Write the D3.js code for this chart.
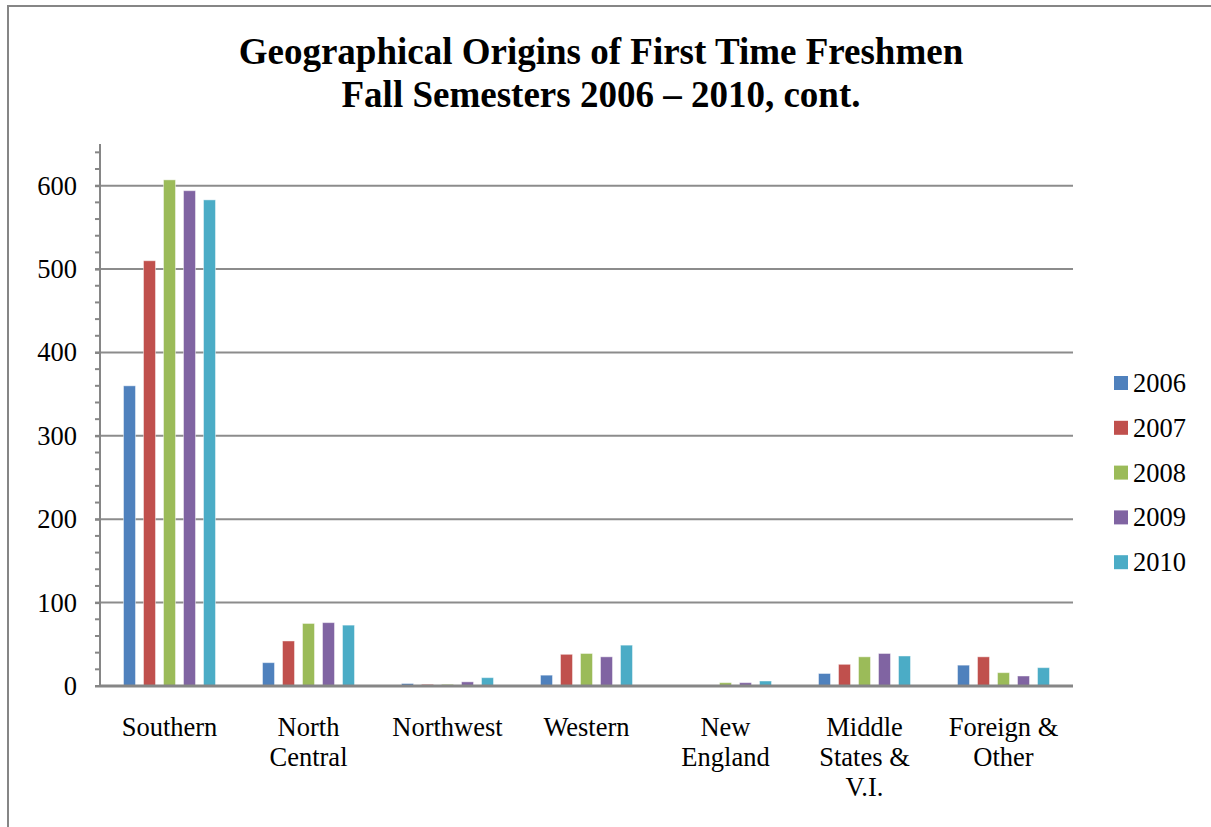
<!doctype html>
<html lang="en">
<head>
<meta charset="utf-8">
<title>Geographical Origins of First Time Freshmen</title>
<script src="https://d3js.org/d3.v7.min.js"></script>
<style>
  body { margin: 0; background: #fff; }
  text { font-family: "Liberation Serif", "Times New Roman", serif; fill: #000; }
  .title { font-size: 37px; font-weight: bold; }
  .tick text { font-size: 26.5px; }
  .cat { font-size: 26.5px; }
  .legend text { font-size: 26.5px; }
</style>
</head>
<body>
<svg width="1211" height="827"></svg>
<script>
// data
var categories = ["Southern", "North Central", "Northwest", "Western", "New England", "Middle States & V.I.", "Foreign & Other"];
var categoryLines = [["Southern"], ["North", "Central"], ["Northwest"], ["Western"], ["New", "England"], ["Middle", "States &", "V.I."], ["Foreign &", "Other"]];
var years = ["2006", "2007", "2008", "2009", "2010"];
var v2006 = [360, 28, 3, 13, 0, 15, 25];
var v2007 = [510, 54, 2, 38, 0, 26, 35];
var v2008 = [607, 75, 2, 39, 4, 35, 16];
var v2009 = [594, 76, 5, 35, 4, 39, 12];
var v2010 = [583, 73, 10, 49, 6, 36, 22];
var series = [v2006, v2007, v2008, v2009, v2010];
var colors = ["#4F81BD", "#C0504D", "#9BBB59", "#8064A2", "#4BACC6"];
var yTicks = [0, 100, 200, 300, 400, 500, 600];

var svg = d3.select("svg");

// outer chart border (runs off the right and bottom of the picture)
svg.append("rect")
    .attr("x", 8).attr("y", 6)
    .attr("width", 1260).attr("height", 900)
    .attr("fill", "none")
    .attr("stroke", "#868686")
    .attr("stroke-width", 2);

// title
var title = svg.append("text").attr("class", "title").attr("text-anchor", "middle");
title.append("tspan").attr("x", 601).attr("y", 64).text("Geographical Origins of First Time Freshmen");
title.append("tspan").attr("x", 601).attr("y", 107).text("Fall Semesters 2006 \u2013 2010, cont.");

var plotLeft = 100, plotRight = 1073, plotTop = 144, plotBottom = 686;

var x0 = d3.scaleBand().domain(categories).range([plotLeft, plotRight]);
var x1 = d3.scaleBand().domain(years).range([0, 92]).paddingInner(0.4);
var y = d3.scaleLinear().domain([0, 650]).range([plotBottom, plotTop]);

// gridlines
svg.append("g")
    .selectAll("line")
    .data(yTicks.slice(1))
    .enter().append("line")
    .attr("x1", plotLeft).attr("x2", plotRight)
    .attr("y1", d => y(d)).attr("y2", d => y(d))
    .attr("stroke", "#8c8c8c")
    .attr("stroke-width", 2);

// minor ticks every 20
svg.append("g")
    .selectAll("line")
    .data(d3.range(0, 641, 20))
    .enter().append("line")
    .attr("x1", plotLeft - 5).attr("x2", plotLeft)
    .attr("y1", d => y(d)).attr("y2", d => y(d))
    .attr("stroke", "#868686")
    .attr("stroke-width", 2);

// y axis
var yAxis = svg.append("g")
    .attr("transform", "translate(" + plotLeft + ",0)")
    .call(d3.axisLeft(y).tickValues(yTicks).tickSize(5).tickPadding(18))
    .attr("font-family", "Liberation Serif, Times New Roman, serif")
    .attr("font-size", 26.5);
yAxis.select(".domain").remove();
yAxis.selectAll(".tick line").attr("stroke", "#868686").attr("stroke-width", 2);
svg.append("line")
    .attr("x1", plotLeft).attr("x2", plotLeft)
    .attr("y1", plotTop).attr("y2", plotBottom)
    .attr("stroke", "#868686").attr("stroke-width", 2);

// bars
var groups = svg.append("g")
    .selectAll("g")
    .data(categories)
    .enter().append("g")
    .attr("transform", d => "translate(" + (x0(d) + x0.bandwidth() / 2 - 46) + ",0)");

groups.selectAll("rect")
    .data((d, i) => years.map((yr, j) => ({year: yr, value: series[j][i], color: colors[j]})))
    .enter().append("rect")
    .attr("x", d => x1(d.year))
    .attr("width", x1.bandwidth())
    .attr("y", d => y(d.value))
    .attr("height", d => plotBottom - y(d.value))
    .attr("fill", d => d.color)
    .attr("stroke", "rgba(255,255,255,0.45)")
    .attr("stroke-width", 1);

// x axis line
svg.append("line")
    .attr("x1", plotLeft).attr("x2", plotRight)
    .attr("y1", plotBottom).attr("y2", plotBottom)
    .attr("stroke", "#868686").attr("stroke-width", 3);

// category labels
var catText = svg.append("g")
    .selectAll("text")
    .data(categories)
    .enter().append("text")
    .attr("class", "cat")
    .attr("text-anchor", "middle");
catText.selectAll("tspan")
    .data((d, i) => categoryLines[i].map(s => ({s: s, x: x0(d) + x0.bandwidth() / 2})))
    .enter().append("tspan")
    .attr("x", d => d.x)
    .attr("y", (d, i) => 736 + i * 30)
    .text(d => d.s);

// legend
var legend = svg.append("g").attr("class", "legend")
    .selectAll("g")
    .data(years)
    .enter().append("g")
    .attr("transform", (d, i) => "translate(1114," + (383 + i * 44.8) + ")");
legend.append("rect")
    .attr("x", 0).attr("y", -7)
    .attr("width", 14).attr("height", 14)
    .attr("fill", (d, i) => colors[i]);
legend.append("text")
    .attr("x", 19).attr("y", 9)
    .text(d => d);
</script>
</body>
</html>
